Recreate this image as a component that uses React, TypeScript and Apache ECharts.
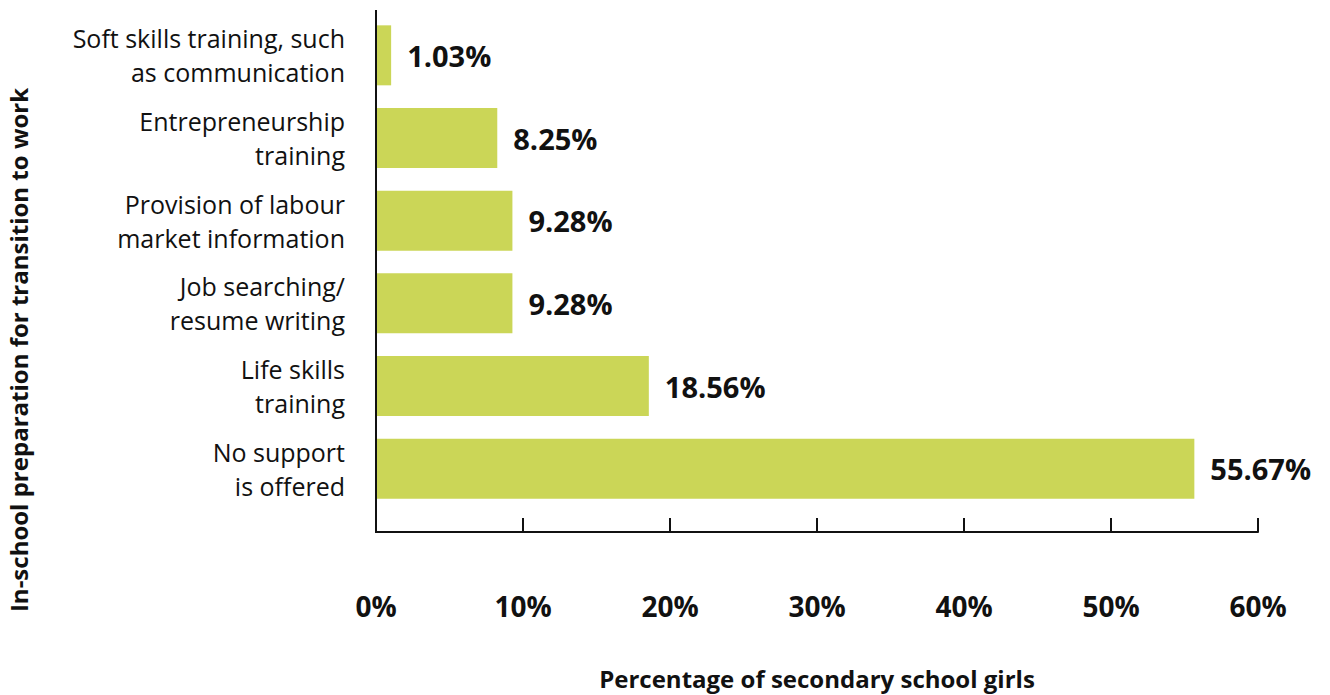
import React, { useEffect, useRef } from "react";
import * as echarts from "echarts";

const categories = [
  "Soft skills training, such\nas communication",
  "Entrepreneurship\ntraining",
  "Provision of labour\nmarket information",
  "Job searching/\nresume writing",
  "Life skills\ntraining",
  "No support\nis offered",
];
const values = [1.03, 8.25, 9.28, 9.28, 18.56, 55.67];
const xTicks = { min: 0, max: 60, interval: 10 };
const xAxisTitle = "Percentage of secondary school girls";
const yAxisTitle = "In-school preparation for transition to work";

const BAR = "#cbd657";
const INK = "#111111";
const FONT = "'Open Sans', 'Noto Sans', sans-serif";

export default function App() {
  const ref = useRef<HTMLDivElement>(null);
  useEffect(() => {
    if (!ref.current) return;
    const chart = echarts.init(ref.current, undefined, { renderer: "svg" });
    const gridTop = 14;
    const gridBottomY = 510;
    const axisOffset = 22;
    chart.setOption({
      animation: false,
      backgroundColor: "#ffffff",
      textStyle: { fontFamily: FONT, color: INK },
      grid: { left: 376, right: 72, top: gridTop, height: gridBottomY - gridTop, containLabel: false },
      xAxis: {
        type: "value",
        min: xTicks.min,
        max: xTicks.max,
        interval: xTicks.interval,
        offset: axisOffset,
        axisLine: { show: true, lineStyle: { color: INK, width: 2 } },
        axisTick: { show: true, inside: true, length: 14, lineStyle: { color: INK, width: 2 } },
        splitLine: { show: false },
        axisLabel: {
          margin: 60,
          formatter: "{value}%",
          fontFamily: FONT,
          fontWeight: "bold",
          fontSize: 28,
          color: INK,
        },
        name: xAxisTitle,
        nameLocation: "middle",
        nameGap: 134,
        nameTextStyle: { fontFamily: FONT, fontWeight: "bold", fontSize: 24, color: INK },
      },
      yAxis: {
        type: "category",
        inverse: true,
        data: categories,
        axisLine: { show: false },
        axisTick: { show: false },
        axisLabel: {
          margin: 31,
          align: "right",
          fontFamily: FONT,
          fontSize: 25,
          lineHeight: 34,
          color: INK,
        },
      },
      series: [
        {
          type: "bar",
          data: values,
          barWidth: 60,
          itemStyle: { color: BAR },
          label: {
            show: true,
            position: "right",
            distance: 16,
            formatter: (p: any) => p.value.toFixed(2) + "%",
            fontFamily: FONT,
            fontWeight: "bold",
            fontSize: 29,
            color: INK,
          },
        },
      ],
    });
    const x0 = chart.convertToPixel({ xAxisIndex: 0 }, xTicks.min) as number;
    chart.setOption({
      graphic: [
        {
          type: "line",
          shape: { x1: x0, y1: gridTop - 4, x2: x0, y2: gridBottomY + axisOffset + 1 },
          style: { stroke: INK, lineWidth: 2 },
          z: 10,
        },
        {
          type: "text",
          x: 18,
          y: 350,
          rotation: Math.PI / 2,
          style: {
            text: yAxisTitle,
            align: "center",
            verticalAlign: "middle",
            fontFamily: FONT,
            fontWeight: "bold",
            fontSize: 24,
            fill: INK,
          },
        },
      ],
    });
    return () => chart.dispose();
  }, []);
  return (
    <div
      ref={ref}
      style={{ position: "fixed", left: 0, top: 0, width: 1330, height: 695, background: "#fff" }}
    />
  );
}
